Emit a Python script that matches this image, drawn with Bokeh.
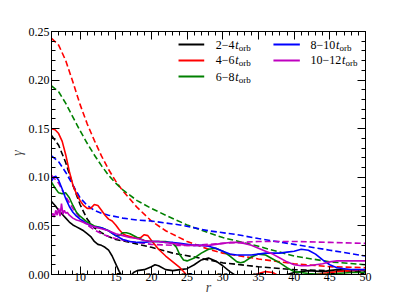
from bokeh.plotting import figure
from bokeh.models import (LinearAxis, SingleIntervalTicker, Label, CustomJSTickFormatter,
                          PrintfTickFormatter, Range1d)
from bokeh.embed import file_html
from bokeh.resources import INLINE

# ---------------- data ----------------
# dashed (fit) curves
xd_black = [6, 7, 8, 9, 10, 11, 12, 13, 14, 15, 17, 20, 23, 26, 30, 35, 40, 45, 50]
yd_black = [0.143, 0.133, 0.115, 0.092, 0.072, 0.057, 0.048, 0.043, 0.039, 0.036, 0.033,
            0.028, 0.022, 0.018, 0.012, 0.008, 0.005, 0.004, 0.003]
xd_red = [6, 7, 8, 9, 10, 11, 12, 13, 14, 15, 16, 18, 20, 22, 25, 28, 30, 35, 40, 45, 50]
yd_red = [0.243, 0.236, 0.220, 0.198, 0.175, 0.155, 0.138, 0.122, 0.108, 0.096, 0.086,
          0.069, 0.055, 0.045, 0.034, 0.026, 0.022, 0.016, 0.011, 0.008, 0.007]
xd_green = [6, 7, 8, 9, 10, 11, 12, 13, 14, 15, 16, 18, 20, 22, 25, 28, 30, 35, 40, 45, 50]
yd_green = [0.194, 0.188, 0.176, 0.162, 0.148, 0.135, 0.123, 0.112, 0.102, 0.094, 0.087,
            0.076, 0.068, 0.061, 0.051, 0.043, 0.038, 0.029, 0.019, 0.013, 0.010]
xd_blue = [6, 7, 8, 9, 10, 11, 12, 13, 14, 16, 18, 20, 24, 28, 32, 35, 40, 45, 50]
yd_blue = [0.122, 0.116, 0.105, 0.092, 0.079, 0.071, 0.066, 0.063, 0.061, 0.058, 0.056,
           0.055, 0.051, 0.045, 0.041, 0.037, 0.031, 0.025, 0.019]
xd_mag = [6, 7, 8, 9, 10, 11, 12, 13, 14, 15, 17, 20, 23, 26, 30, 35, 40, 45, 50]
yd_mag = [0.102, 0.094, 0.080, 0.068, 0.058, 0.051, 0.046, 0.042, 0.039, 0.037, 0.034,
          0.031, 0.030, 0.030, 0.032, 0.034, 0.034, 0.033, 0.032]

# solid (measured) curves
xs_black = [6, 6.5, 7, 7.5, 8, 8.5, 9, 9.5, 10, 10.5, 11, 11.5, 12, 12.5, 13, 13.5, 14, 14.5,
            15, 15.5, 16, 17, 17.5, 18, 19, 20, 20.5, 21, 22, 23, 24, 25, 26, 27, 28, 29, 30,
            31, 32, 34, 38, 40, 42, 44, 46, 48, 50]
ys_black = [0.075, 0.071, 0.066, 0.062, 0.058, 0.054, 0.051, 0.049, 0.047, 0.045, 0.042,
            0.039, 0.034, 0.031, 0.030, 0.028, 0.025, 0.019, 0.011, 0.003, -0.003, -0.002,
            0.002, 0.004, 0.005, 0.008, 0.010, 0.009, 0.005, 0.004, 0.005, 0.006, 0.010,
            0.015, 0.017, 0.014, 0.009, 0.003, -0.002, -0.003, -0.002, 0.002, 0.004, 0.003,
            0.005, 0.004, 0.004]
xs_red = [6, 6.5, 7, 7.5, 8, 8.5, 9, 9.5, 10, 10.5, 11, 11.5, 12, 12.5, 13, 13.5, 14, 14.5,
          15, 15.5, 16, 16.5, 17, 17.5, 18, 18.5, 19, 19.5, 20, 21, 22, 23, 24, 24.5, 25, 26,
          34, 35, 36, 37, 38, 40, 42, 44, 46, 48, 50]
ys_red = [0.150, 0.149, 0.145, 0.137, 0.123, 0.106, 0.092, 0.083, 0.076, 0.071, 0.068, 0.068,
          0.072, 0.071, 0.066, 0.061, 0.057, 0.055, 0.051, 0.046, 0.042, 0.040, 0.039, 0.038,
          0.037, 0.038, 0.041, 0.040, 0.035, 0.026, 0.019, 0.013, 0.007, 0.003, -0.001,
          -0.004, -0.003, 0.001, 0.003, 0.002, -0.002, -0.003, -0.001, 0.001, 0.003, 0.004,
          0.005]
xs_green = [6, 6.5, 7, 7.5, 8, 8.5, 9, 9.5, 10, 10.5, 11, 11.5, 12, 13, 14, 15, 15.5, 16,
            16.5, 17, 18, 19, 20, 21, 22, 23, 23.5, 24, 24.5, 25, 26, 27, 28, 29, 30, 31, 32,
            32.5, 33, 34, 35, 36, 37, 38, 39, 40, 42, 44, 46, 48, 50]
ys_green = [0.095, 0.089, 0.084, 0.083, 0.084, 0.079, 0.071, 0.064, 0.060, 0.057, 0.054,
            0.052, 0.050, 0.048, 0.045, 0.040, 0.040, 0.043, 0.043, 0.042, 0.038, 0.035,
            0.034, 0.034, 0.034, 0.032, 0.028, 0.020, 0.015, 0.014, 0.017, 0.022, 0.026,
            0.027, 0.024, 0.019, 0.013, 0.012, 0.013, 0.018, 0.021, 0.020, 0.016, 0.012,
            0.007, 0.003, 0.001, 0.000, 0.001, 0.002, 0.002]
xs_blue = [6, 6.3, 6.6, 7, 7.5, 8, 8.5, 9, 9.5, 10, 11, 12, 13, 14, 15, 16, 17, 18, 19, 20,
           21, 22, 23, 24, 25, 26, 27, 28, 29, 30, 31, 32, 33, 34, 35, 36, 37, 38, 39, 40, 41,
           42, 43, 44, 45, 46, 47, 48, 50]
ys_blue = [0.096, 0.100, 0.101, 0.097, 0.088, 0.078, 0.070, 0.064, 0.060, 0.057, 0.052,
           0.049, 0.048, 0.045, 0.040, 0.036, 0.034, 0.033, 0.033, 0.034, 0.034, 0.033,
           0.033, 0.032, 0.031, 0.030, 0.030, 0.029, 0.027, 0.024, 0.021, 0.020, 0.020,
           0.020, 0.021, 0.022, 0.022, 0.022, 0.023, 0.024, 0.026, 0.025, 0.021, 0.015,
           0.010, 0.007, 0.006, 0.005, 0.005]
xs_mag = [6, 6.2, 6.4, 6.6, 6.8, 7.0, 7.2, 7.4, 7.6, 7.8, 8.0, 8.2, 8.5, 9, 9.5, 10, 11, 12,
          13, 14, 15, 16, 17, 18, 19, 20, 21, 22, 23, 24, 25, 26, 27, 28, 29, 30, 31, 32, 33,
          34, 35, 36, 37, 38, 39, 40, 41, 42, 43, 44, 45, 46, 47, 48, 50]
ys_mag = [0.060, 0.063, 0.059, 0.066, 0.061, 0.068, 0.060, 0.073, 0.062, 0.066, 0.063, 0.064,
          0.061, 0.058, 0.056, 0.055, 0.052, 0.049, 0.047, 0.045, 0.042, 0.040, 0.038,
          0.037, 0.035, 0.034, 0.034, 0.033, 0.032, 0.031, 0.030, 0.030, 0.030, 0.030,
          0.031, 0.032, 0.033, 0.033, 0.032, 0.030, 0.027, 0.024, 0.021, 0.017, 0.013,
          0.010, 0.009, 0.009, 0.010, 0.011, 0.013, 0.014, 0.014, 0.014, 0.014]

series_labels = ["2\u22124", "4\u22126", "6\u22128", "8\u221210", "10\u221212"]
colors = ["black", "#ff0000", "#008000", "#0000ff", "#bf00bf"]
solid_x = [xs_black, xs_red, xs_green, xs_blue, xs_mag]
solid_y = [ys_black, ys_red, ys_green, ys_blue, ys_mag]
dash_x = [xd_black, xd_red, xd_green, xd_blue, xd_mag]
dash_y = [yd_black, yd_red, yd_green, yd_blue, yd_mag]

FONT = "'Liberation Serif', 'Times New Roman', serif"

p = figure(width=398, height=305,
           x_range=Range1d(6, 50), y_range=Range1d(0, 0.25),
           output_backend="svg", toolbar_location=None,
           min_border_left=51, min_border_top=31, min_border_right=33, min_border_bottom=31,
           x_axis_label="r", y_axis_label="\u03b3")
p.xgrid.visible = False
p.ygrid.visible = False
p.outline_line_color = "black"
p.background_fill_color = "white"
p.border_fill_color = "white"

xt = SingleIntervalTicker(interval=5, num_minor_ticks=5)
yt = SingleIntervalTicker(interval=0.05, num_minor_ticks=5)
bottom = p.below[0]
left = p.left[0]
bottom.ticker = xt
left.ticker = yt
left.formatter = PrintfTickFormatter(format="%.2f")

top = LinearAxis(ticker=xt, formatter=CustomJSTickFormatter(code="return ''"))
right = LinearAxis(ticker=yt, formatter=CustomJSTickFormatter(code="return ''"))
p.add_layout(top, "above")
p.add_layout(right, "right")

for ax in [bottom, left, top, right]:
    ax.major_tick_in = 8
    ax.major_tick_out = 0
    ax.minor_tick_in = 4
    ax.minor_tick_out = 0
    ax.axis_line_color = "black"
    ax.major_tick_line_color = "black"
    ax.minor_tick_line_color = "black"
    ax.major_label_text_font = FONT
    ax.major_label_text_font_size = "12px"
    ax.major_label_text_color = "black"
    ax.major_label_standoff = 2
    ax.axis_label_text_font = FONT
    ax.axis_label_text_font_size = "14px"
    ax.axis_label_text_font_style = "italic"
    ax.axis_label_standoff = 0
top.major_label_text_font_size = "1px"
right.major_label_text_font_size = "1px"
top.major_label_standoff = 0
right.major_label_standoff = 0
bottom.major_label_standoff = -2
bottom.axis_label_standoff = -4
left.axis_label_standoff = 1

# dashed fits
for xs, ys, c in zip(dash_x, dash_y, colors):
    p.line(xs, ys, line_color=c, line_width=1.6, line_dash="6 3")
# measured curves
for xs, ys, c in zip(solid_x, solid_y, colors):
    p.line(xs, ys, line_color=c, line_width=1.6)

# legend (manual, to allow the subscript "orb")
leg_rows = [0.2366, 0.2202, 0.2037]
leg_cols = [(23.8, 27.4, 29.0), (37.1, 40.8, 42.3)]
t_offsets = [19.5, 19.5, 19.5, 25.5, 31.5]
for i, (lab, c) in enumerate(zip(series_labels, colors)):
    col = 0 if i < 3 else 1
    row = i if i < 3 else i - 3
    x0, x1, xl = leg_cols[col]
    y = leg_rows[row]
    p.line([x0, x1], [y, y], line_color=c, line_width=2)
    p.add_layout(Label(x=xl, y=y, text=lab, text_font=FONT, text_font_size="12px",
                       text_baseline="middle", text_color="black"))
    p.add_layout(Label(x=xl, y=y, x_offset=t_offsets[i], text="t", text_font=FONT,
                       text_font_size="12px", text_font_style="italic",
                       text_baseline="middle", text_color="black"))
    p.add_layout(Label(x=xl, y=y, x_offset=t_offsets[i] + 3.5, y_offset=-3, text="orb",
                       text_font=FONT, text_font_size="9px", text_baseline="middle",
                       text_color="black"))

open("out.html", "w").write(file_html(p, INLINE))
